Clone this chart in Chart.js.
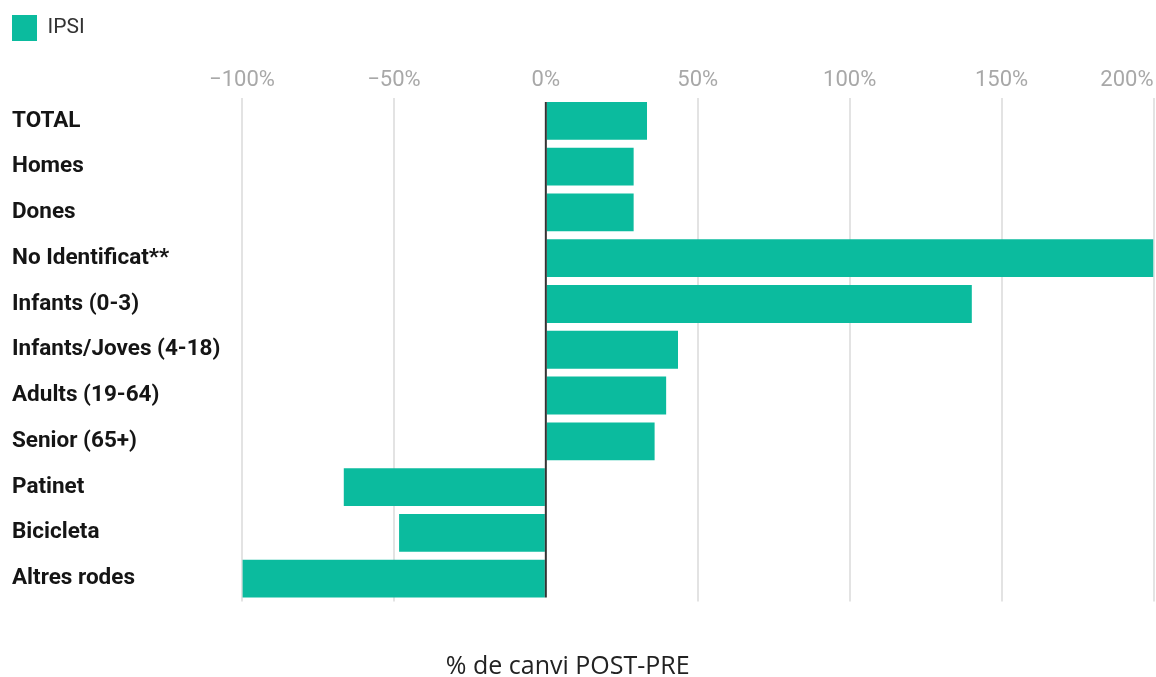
<!DOCTYPE html>
<html><head><meta charset="utf-8">
<script src="https://cdn.jsdelivr.net/npm/chart.js@4"></script>
<style>html,body{margin:0;padding:0;background:#fff}#wrap{width:1156px;height:677px;position:relative}</style>
</head><body><div id="wrap"><canvas id="c"></canvas></div>
<script>
const categories = ["TOTAL","Homes","Dones","No Identificat**","Infants (0-3)","Infants/Joves (4-18)","Adults (19-64)","Senior (65+)","Patinet","Bicicleta","Altres rodes"];
const ipsiValues = [33.3, 28.9, 28.9, 200, 140.2, 43.5, 39.6, 35.8, -66.5, -48.3, -99.8];
const seriesName = "IPSI";
const xMin = -100, xMax = 200, xStep = 50;
const axisTitle = "% de canvi POST-PRE";

const BAR = '#0bbb9e';
const TICK_FONT = { family: 'Roboto', size: 22, weight: 'normal' };
const TICK_PAD = 4;

function fmtPct(v){ return (v < 0 ? '\u2212' + Math.abs(v) : String(v)) + '%'; }

const extras = {
  id: 'extras',
  afterLayout(chart){
    if (chart.titleBlock) { chart.titleBlock.right -= 30; }
  },
  afterDatasetsDraw(chart){
    const {ctx, chartArea, scales} = chart;
    const x0 = scales.x.getPixelForValue(0);
    ctx.save();
    ctx.strokeStyle = '#333';
    ctx.lineWidth = 2;
    ctx.beginPath();
    ctx.moveTo(x0, chartArea.top + 4);
    ctx.lineTo(x0, chartArea.bottom - 4);
    ctx.stroke();
    ctx.restore();
  },
  afterDraw(chart){
    const {ctx, scales} = chart;
    const sx = scales.x;
    ctx.save();
    ctx.font = TICK_FONT.size + 'px ' + TICK_FONT.family;
    ctx.fillStyle = '#a8a8a8';
    ctx.textAlign = 'right';
    ctx.textBaseline = 'middle';
    ctx.fillText(fmtPct(xMax), sx.getPixelForValue(xMax), sx.bottom - TICK_PAD - TICK_FONT.size * 1.2 / 2);
    ctx.restore();
  }
};

new Chart(document.getElementById('c'), {
  type: 'bar',
  data: {
    labels: categories,
    datasets: [{
      label: seriesName,
      data: ipsiValues,
      backgroundColor: BAR,
      borderWidth: 0,
      barPercentage: 0.826,
      categoryPercentage: 1.0
    }]
  },
  options: {
    indexAxis: 'y',
    responsive: true,
    maintainAspectRatio: false,
    animation: false,
    layout: { padding: { left: 12, right: 2.5, top: 15, bottom: 0 } },
    scales: {
      x: {
        position: 'top',
        min: xMin, max: xMax,
        ticks: {
          stepSize: xStep,
          padding: TICK_PAD,
          color: '#a8a8a8',
          font: TICK_FONT,
          maxRotation: 0,
          callback: (v) => v === xMax ? '' : fmtPct(v)
        },
        grid: { color: (c) => c.tick && c.tick.value === 0 ? 'rgba(0,0,0,0)' : '#e3e3e3', lineWidth: 2, drawTicks: false },
        border: { display: false },
        afterFit(s){ s.height = 47; s.paddingRight = 0; }
      },
      y: {
        ticks: {
          crossAlign: 'far',
          color: '#151515',
          font: { family: 'Roboto', size: 22.5, weight: 'bold' }
        },
        grid: { display: false, drawTicks: false },
        border: { display: false },
        afterFit(s){ s.width = 230; }
      }
    },
    plugins: {
      legend: {
        position: 'top', align: 'start',
        labels: {
          boxWidth: 25, boxHeight: 26, padding: 0,
          color: '#333', font: { family: 'Roboto', size: 21 }
        }
      },
      title: {
        display: true, position: 'bottom', text: axisTitle,
        color: '#222', font: { family: 'Open Sans', size: 25, weight: 'normal', lineHeight: 0.8 },
        padding: { top: 55.5, bottom: 0 }
      },
      tooltip: { enabled: false }
    }
  },
  plugins: [extras]
});
</script></body></html>
